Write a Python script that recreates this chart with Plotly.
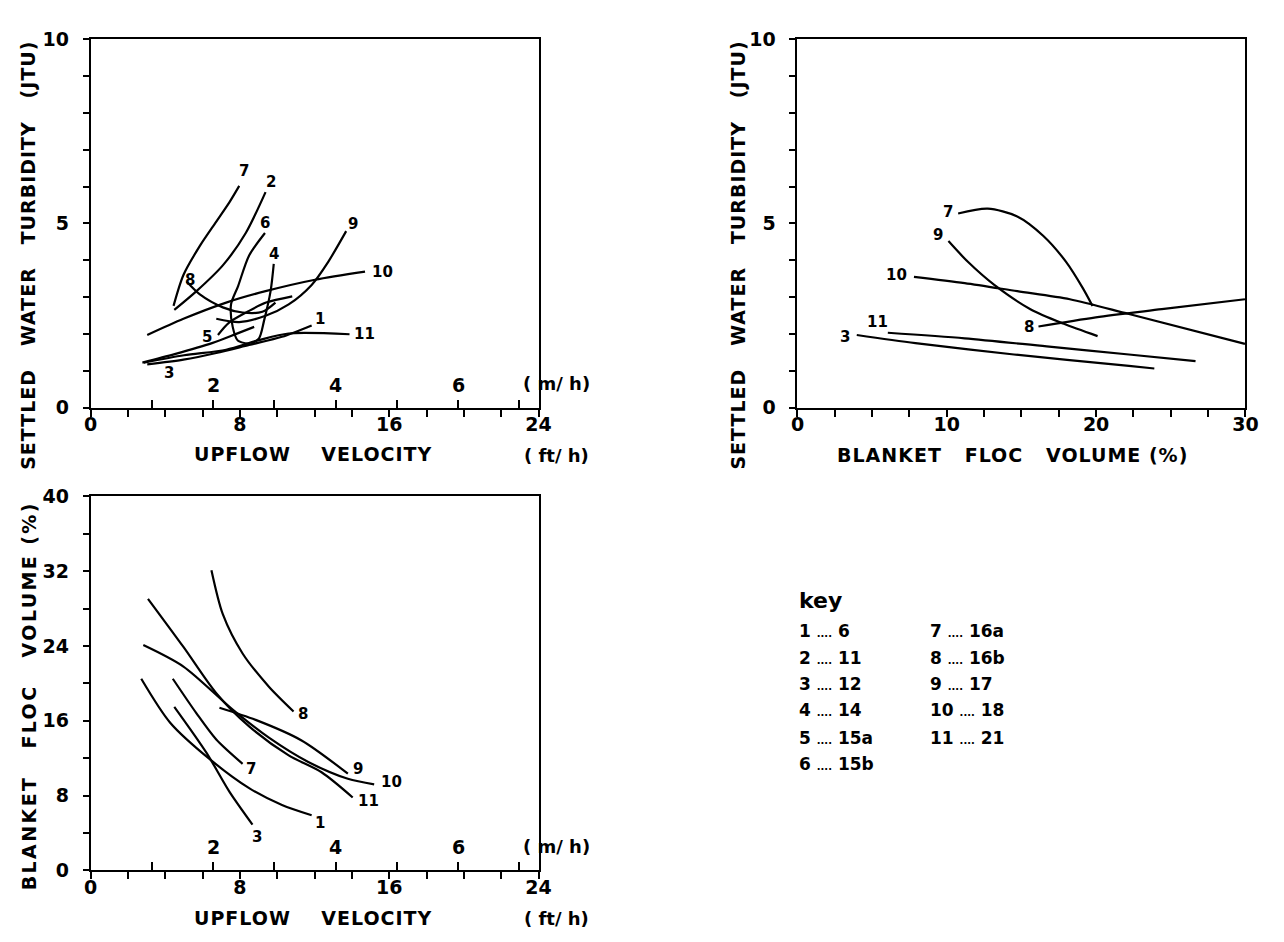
import plotly.graph_objects as go

W, H = 1284, 942
NUM_FONT = "DejaVu Sans"
TITLE_FONT = "DejaVu Sans"
FT_PER_M = 3.28084

# ---------------- data ----------------
# Panel A: settled water turbidity (JTU) vs upflow velocity (ft/h)
A_X = {
    "1": [3.03, 4.97, 6.73, 8.49, 10.25, 11.84],
    "2": [4.48, 5.67, 7.08, 8.31, 9.37],
    "3": [2.77, 4.5, 6.5, 7.8, 8.76],
    "4": [9.81, 9.64, 9.29, 9.02, 8.6],
    "5": [6.82, 7.4, 8.4, 9.4, 10.8],
    "6": [9.34, 8.49, 7.9, 7.52, 7.61, 7.88, 8.49],
    "7": [4.44, 4.97, 5.85, 6.73, 7.44, 7.96],
    "8": [5.14, 5.85, 7.08, 8.14, 9.2, 9.9],
    "9": [6.73, 7.96, 9.37, 10.61, 11.84, 12.72, 13.69],
    "10": [3.03, 4.97, 7.26, 9.37, 12.02, 14.7],
    "11": [2.85, 5.0, 7.26, 9.02, 10.6, 13.87],
}
A_Y = {
    "1": [1.17, 1.30, 1.48, 1.70, 1.92, 2.23],
    "2": [2.65, 3.16, 3.86, 4.74, 5.85],
    "3": [1.22, 1.45, 1.75, 2.0, 2.19],
    "4": [3.9, 3.16, 2.36, 1.88, 1.74],
    "5": [1.97, 2.3, 2.6, 2.85, 3.02],
    "6": [4.74, 4.13, 3.3, 2.8, 2.19, 1.82, 1.73],
    "7": [2.76, 3.6, 4.39, 5.05, 5.58, 6.02],
    "8": [3.42, 3.07, 2.72, 2.58, 2.6, 2.85],
    "9": [2.41, 2.32, 2.49, 2.80, 3.33, 3.95, 4.79],
    "10": [1.97, 2.41, 2.85, 3.16, 3.47, 3.69],
    "11": [1.22, 1.42, 1.57, 1.83, 2.01, 1.99],
}

# Panel B: settled water turbidity (JTU) vs blanket floc volume (%)
B_X = {
    "7": [10.76, 12.74, 14.72, 16.47, 18.0, 19.1, 19.76],
    "9": [10.11, 11.43, 13.18, 15.6, 17.8, 20.1],
    "10": [7.8, 11.2, 14.72, 18.24, 22.2, 29.97],
    "8": [16.14, 19.98, 24.4, 29.97],
    "11": [6.05, 11.2, 16.69, 22.2, 26.66],
    "3": [3.97, 7.9, 14.5, 22.2, 23.9],
}
B_Y = {
    "7": [5.27, 5.40, 5.19, 4.66, 3.95, 3.25, 2.76],
    "9": [4.52, 3.95, 3.33, 2.67, 2.28, 1.94],
    "10": [3.55, 3.38, 3.16, 2.94, 2.54, 1.73],
    "8": [2.2, 2.45, 2.67, 2.94],
    "11": [2.03, 1.88, 1.66, 1.44, 1.26],
    "3": [1.97, 1.75, 1.44, 1.13, 1.06],
}

# Panel C: blanket floc volume (%) vs upflow velocity (ft/h)
C_X = {
    "8": [6.47, 7.08, 8.14, 9.55, 10.87],
    "9": [6.9, 8.84, 11.3, 13.78],
    "10": [2.82, 4.97, 7.61, 9.55, 11.66, 13.78, 15.19],
    "11": [3.07, 4.97, 6.73, 8.49, 10.61, 12.37, 14.04],
    "7": [4.4, 5.67, 6.73, 8.14],
    "1": [2.71, 4.26, 6.38, 8.49, 10.25, 11.84],
    "3": [4.48, 6.2, 7.44, 8.67],
}
C_Y = {
    "8": [32.1, 27.4, 23.2, 19.65, 17.0],
    "9": [17.4, 16.1, 13.9, 10.35],
    "10": [24.1, 21.8, 17.2, 14.2, 11.6, 9.8, 9.2],
    "11": [29.05, 23.9, 18.95, 15.4, 12.3, 10.5, 7.8],
    "7": [20.5, 16.8, 14.0, 11.4],
    "1": [20.5, 15.8, 11.9, 8.8, 7.0, 5.9],
    "3": [17.5, 12.6, 8.4, 4.9],
}

KEY_RUN = ["1", "2", "3", "4", "5", "6", "7", "8", "9", "10", "11"]
KEY_TEST = ["6", "11", "12", "14", "15a", "15b", "16a", "16b", "17", "18", "21"]

FT_TICKS = list(range(0, 25, 2))
MH_TICKS = [1, 2, 3, 4, 5, 6, 7]
MH_LABELS = [2, 4, 6]
TURB_TICKS = list(range(0, 11))
FLOC_PCT_TICKS = [i * 2.5 for i in range(13)]
FLOC_TICKS = list(range(0, 41, 4))

# ---------------- label placement (end, dx px, dy px) ----------------
A_LBL = {"1": (-1, 8, 6), "2": (-1, 5, 10), "3": (0, 27, -10), "4": (0, 0, 10),
         "5": (0, -11, -2), "6": (0, 0, 10), "7": (-1, 5, 15), "8": (0, 3, 2),
         "9": (-1, 7, 7), "10": (-1, 17, 0), "11": (-1, 15, 0)}
B_LBL = {"7": (0, -10, 1), "9": (0, -10, 6), "10": (0, -17, 2), "8": (0, -9, 0),
         "11": (0, -10, 11), "3": (0, -12, -2)}
C_LBL = {"8": (-1, 9, -3), "9": (-1, 10, 5), "10": (-1, 17, 2), "11": (-1, 16, -3),
         "7": (-1, 8, -5), "1": (-1, 8, -8), "3": (-1, 5, -12)}


def px_x(p):
    return p / W


def px_y(p):
    return 1 - p / H


def b(s):
    return f"<b>{s}</b>" if s else ""


dom_left = [px_x(85), px_x(540)]
dom_right = [px_x(803), px_x(1258)]
dom_top = [px_y(406), px_y(29)]
dom_bot = [px_y(880), px_y(497)]

fig = go.Figure()

panels = [
    (A_X, A_Y, A_LBL, "x", "y"),
    (B_X, B_Y, B_LBL, "x2", "y2"),
    (C_X, C_Y, C_LBL, "x3", "y3"),
]
annotations = []
lbl_font = dict(family=NUM_FONT, size=15, color="black", weight="bold")
for xs, ys, lbl, xa, ya in panels:
    for k in xs:
        fig.add_trace(go.Scatter(
            x=xs[k], y=ys[k], mode="lines", xaxis=xa, yaxis=ya,
            line=dict(color="black", width=2.2, shape="spline", smoothing=0.8),
            showlegend=False, hoverinfo="skip"))
        end, dx, dy = lbl[k]
        annotations.append(dict(
            x=xs[k][end], y=ys[k][end], xref=xa, yref=ya, text=b(k),
            showarrow=False, xshift=dx, yshift=dy, font=lbl_font))

# empty traces so the m/h overlay axes are drawn
fig.add_trace(go.Scatter(x=[], y=[], xaxis="x4", yaxis="y", showlegend=False))
fig.add_trace(go.Scatter(x=[], y=[], xaxis="x5", yaxis="y3", showlegend=False))

tickfont = dict(family=NUM_FONT, size=19, color="black", weight="bold")
base_ax = dict(showline=True, linecolor="black", linewidth=2, mirror=True,
               showgrid=False, zeroline=False, ticks="outside", tickwidth=2,
               tickcolor="black", tickfont=tickfont, fixedrange=True)


def lab(vals, step):
    out = []
    for v in vals:
        out.append(b(str(int(v))) if abs(v / step - round(v / step)) < 1e-9 else "")
    return out


mh_ax = dict(showline=False, showgrid=False, zeroline=False, ticks="inside",
             ticklen=8, tickwidth=2, tickcolor="black", showticklabels=False,
             range=[0, 24 / FT_PER_M], tickvals=MH_TICKS, side="bottom",
             fixedrange=True)

xstd = dict(ticklen=7, ticklabelstandoff=-8)
ystd = dict(ticklen=6, ticklabelstandoff=10)
fig.update_layout(
    width=W, height=H, autosize=False,
    margin=dict(l=0, r=0, t=0, b=0, pad=0),
    paper_bgcolor="white", plot_bgcolor="white",
    xaxis=dict(base_ax, **xstd, domain=dom_left, anchor="y", range=[0, 24],
               tickvals=FT_TICKS, ticktext=lab(FT_TICKS, 8)),
    yaxis=dict(base_ax, **ystd, domain=dom_top, anchor="x", range=[0, 10],
               tickvals=TURB_TICKS, ticktext=lab(TURB_TICKS, 5)),
    xaxis2=dict(base_ax, **xstd, domain=dom_right, anchor="y2", range=[0, 30],
                tickvals=FLOC_PCT_TICKS, ticktext=lab(FLOC_PCT_TICKS, 10)),
    yaxis2=dict(base_ax, **ystd, domain=dom_top, anchor="x2", range=[0, 10],
                tickvals=TURB_TICKS, ticktext=lab(TURB_TICKS, 5)),
    xaxis3=dict(base_ax, **xstd, domain=dom_left, anchor="y3", range=[0, 24],
                tickvals=FT_TICKS, ticktext=lab(FT_TICKS, 8)),
    yaxis3=dict(base_ax, **ystd, domain=dom_bot, anchor="x3", range=[0, 40],
                tickvals=FLOC_TICKS, ticktext=lab(FLOC_TICKS, 8)),
    xaxis4=dict(mh_ax, overlaying="x", anchor="y"),
    xaxis5=dict(mh_ax, overlaying="x3", anchor="y3"),
)

# m/h labels sit inside the plot, above their ticks
for xa, ya in (("x", "y"), ("x3", "y3")):
    for m in MH_LABELS:
        annotations.append(dict(x=m * FT_PER_M, y=0, xref=xa, yref=ya, text=b(str(m)),
                                showarrow=False, yanchor="bottom", yshift=10,
                                font=tickfont))

title_font = dict(family=TITLE_FONT, size=19, color="black", weight="bold")
G2 = "&#160;&#160;"


def ptxt(text, x, y, angle=0, font=title_font, xanchor="center"):
    annotations.append(dict(text=text, x=px_x(x), y=px_y(y), xref="paper",
                            yref="paper", showarrow=False, textangle=angle,
                            font=font, xanchor=xanchor, yanchor="middle"))


def spaced(text, px):
    return f"<span style='letter-spacing:{px}px'><b>{text}</b></span>"


turb_title = spaced(f"SETTLED{G2} WATER{G2} TURBIDITY{G2} (JTU)", 1)
floc_title_v = spaced(f"BLANKET{G2} FLOC{G2} VOLUME (%)", 2.4)
floc_title_h = spaced(f"BLANKET{G2} FLOC{G2} VOLUME (%)", 1)
vel_title = spaced(f"UPFLOW{G2}&#160; VELOCITY", 1)

ptxt(turb_title, 22, 250, -90)
ptxt(turb_title, 743, 250, -90)
ptxt(floc_title_v, 22, 701, -90)
ptxt(vel_title, 311, 454)
ptxt(vel_title, 311, 929)
ptxt(floc_title_h, 1021, 455)

unit_font = dict(family=NUM_FONT, size=18, color="black", weight="bold")
ptxt("<b>( m/ h)</b>", 558, 381, font=unit_font)
ptxt("<b>( ft/ h)</b>", 558, 455, font=unit_font)
ptxt("<b>( m/ h)</b>", 558, 855, font=unit_font)
ptxt("<b>( ft/ h)</b>", 558, 929, font=unit_font)

# key
ptxt("<b>key</b>", 802, 604,
     font=dict(family=NUM_FONT, size=22, color="black", weight="bold"), xanchor="left")
key_font = dict(family=NUM_FONT, size=17, color="black", weight="bold")
row_y = [635, 662, 689, 716, 744, 771]
for i, (r, t) in enumerate(zip(KEY_RUN, KEY_TEST)):
    col = 0 if i < 6 else 1
    y = row_y[i if i < 6 else i - 6]
    x = 802 if col == 0 else 936
    ptxt(f"<b>{r}</b> <span style='font-size:10px'><b>....</b></span> <b>{t}</b>", x, y,
         font=key_font, xanchor="left")

fig.update_layout(annotations=annotations)
fig.write_html("out.html")
